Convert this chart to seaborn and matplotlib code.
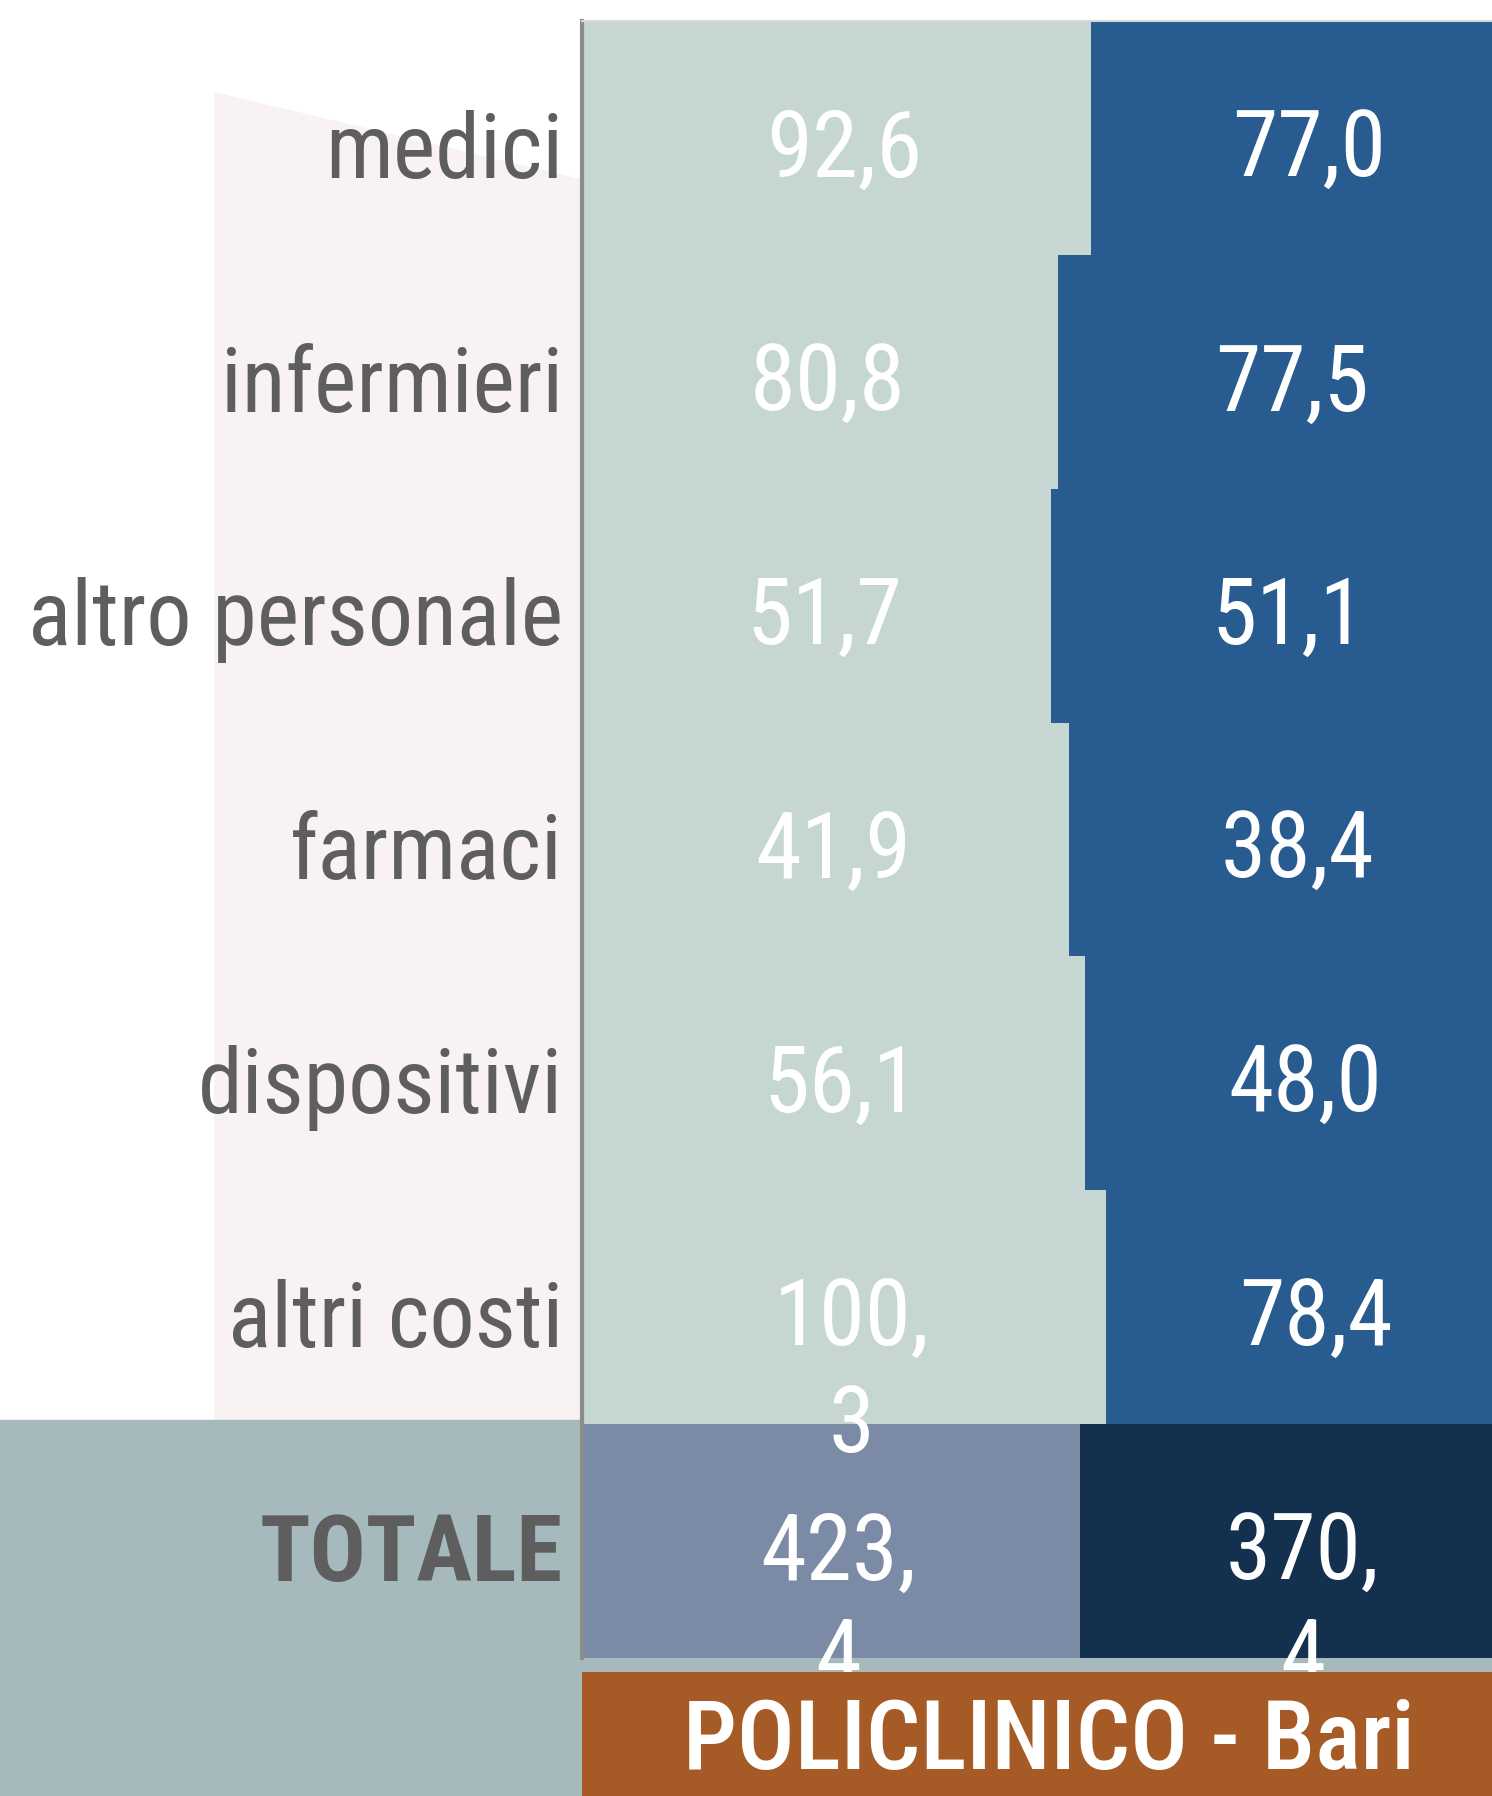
import matplotlib
matplotlib.use("Agg")
import matplotlib.pyplot as plt
import matplotlib.font_manager as fm
from matplotlib.patches import Rectangle, Polygon
import seaborn as sns
import pandas as pd

voci = ["medici", "infermieri", "altro personale", "farmaci", "dispositivi", "altri costi", "TOTALE"]
costo_a = [92.6, 80.8, 51.7, 41.9, 56.1, 100.3, 423.4]
costo_b = [77.0, 77.5, 51.1, 38.4, 48.0, 78.4, 370.4]
titolo = "POLICLINICO - Bari"

colori_a = ["#c5d6d3"] * 6 + ["#7b8ba6"]
colori_b = ["#285b90"] * 6 + ["#13304e"]

W, H = 1492, 1796

nomi = {f.name for f in fm.fontManager.ttflist}
stretti = [n for n in ["Roboto Condensed", "Liberation Sans Narrow"] if n in nomi]
font_testo = stretti + ["Roboto", "DejaVu Sans"]


def etichetta(v):
    s = f"{v:.1f}".replace(".", ",")
    if len(s) > 4:
        return s.split(",")[0] + ",", s.split(",")[1]
    return (s,)


def main():
    sns.set_theme(style="white")
    plt.rcParams["font.family"] = font_testo

    df = pd.DataFrame({"voce": voci, "a": costo_a, "b": costo_b})
    df["quota"] = df["a"] / (df["a"] + df["b"])
    df["tutto"] = 1.0

    fig = plt.figure(figsize=(W / 100, H / 100), dpi=100)
    fig.patch.set_facecolor("white")

    # sfondo: fascia rosa dietro le etichette e blocco grigio-verde in basso
    fig.patches.append(Polygon([(215 / W, 376 / H), (215 / W, 1 - 93 / H),
                                (582 / W, 1 - 180 / H), (582 / W, 376 / H)],
                               closed=True, transform=fig.transFigure,
                               color="#f8f2f2", zorder=-10))
    fig.patches.append(Rectangle((0, 0), 1, 376 / H, transform=fig.transFigure,
                                 color="#a6babd", zorder=-10))

    ax = fig.add_axes([582 / W, 1 - 1658 / H, 933 / W, (1658 - 21) / H])
    ax.patch.set_alpha(0)

    sns.barplot(data=df, x="tutto", y="voce", hue="voce", palette=colori_b,
                orient="h", width=1.0, saturation=1, legend=False,
                linewidth=0, ax=ax)
    sns.barplot(data=df, x="quota", y="voce", hue="voce", palette=colori_a,
                orient="h", width=1.0, saturation=1, legend=False,
                linewidth=0, ax=ax)

    ax.set_xlim(0, 1)
    ax.set_ylim(6.5, -0.5)
    ax.set_xticks([])
    ax.set_yticks([])
    ax.set_xlabel("")
    ax.set_ylabel("")
    for s in ["right", "bottom"]:
        ax.spines[s].set_visible(False)
    ax.spines["left"].set_color("#8c8c8c")
    ax.spines["left"].set_linewidth(3)
    ax.spines["top"].set_color("#d8d8d8")
    ax.spines["top"].set_linewidth(1.5)

    passo = 106 / 234  # distanza tra le righe dei numeri spezzati
    for i, r in df.iterrows():
        tot = r["voce"] == "TOTALE"
        ax.text(-19 / 933, i + 0.17, r["voce"], ha="right", va="baseline",
                color="#5e5e5e", fontsize=67 if tot else 65,
                fontweight="bold" if tot else "normal")
        for k, riga in enumerate(etichetta(r["a"])):
            ax.text(r["quota"] / 2 + 0.008, i + 0.165 + k * passo, riga,
                    ha="center", va="baseline", color="white", fontsize=67)
        for k, riga in enumerate(etichetta(r["b"])):
            ax.text((1 + r["quota"]) / 2 + 0.006, i + 0.165 + k * passo, riga,
                    ha="center", va="baseline", color="white", fontsize=66)

    tax = fig.add_axes([582 / W, 0, 933 / W, 124 / H])
    tax.set_facecolor("#a65b27")
    tax.set_xticks([])
    tax.set_yticks([])
    for s in tax.spines.values():
        s.set_visible(False)
    tax.text(0.5, 27 / 124, titolo, ha="center", va="baseline", color="white",
             fontsize=69, fontweight="medium", transform=tax.transAxes)

    fig.savefig("out.png", dpi=100, facecolor="white")
    plt.close()


if __name__ == "__main__":
    main()
